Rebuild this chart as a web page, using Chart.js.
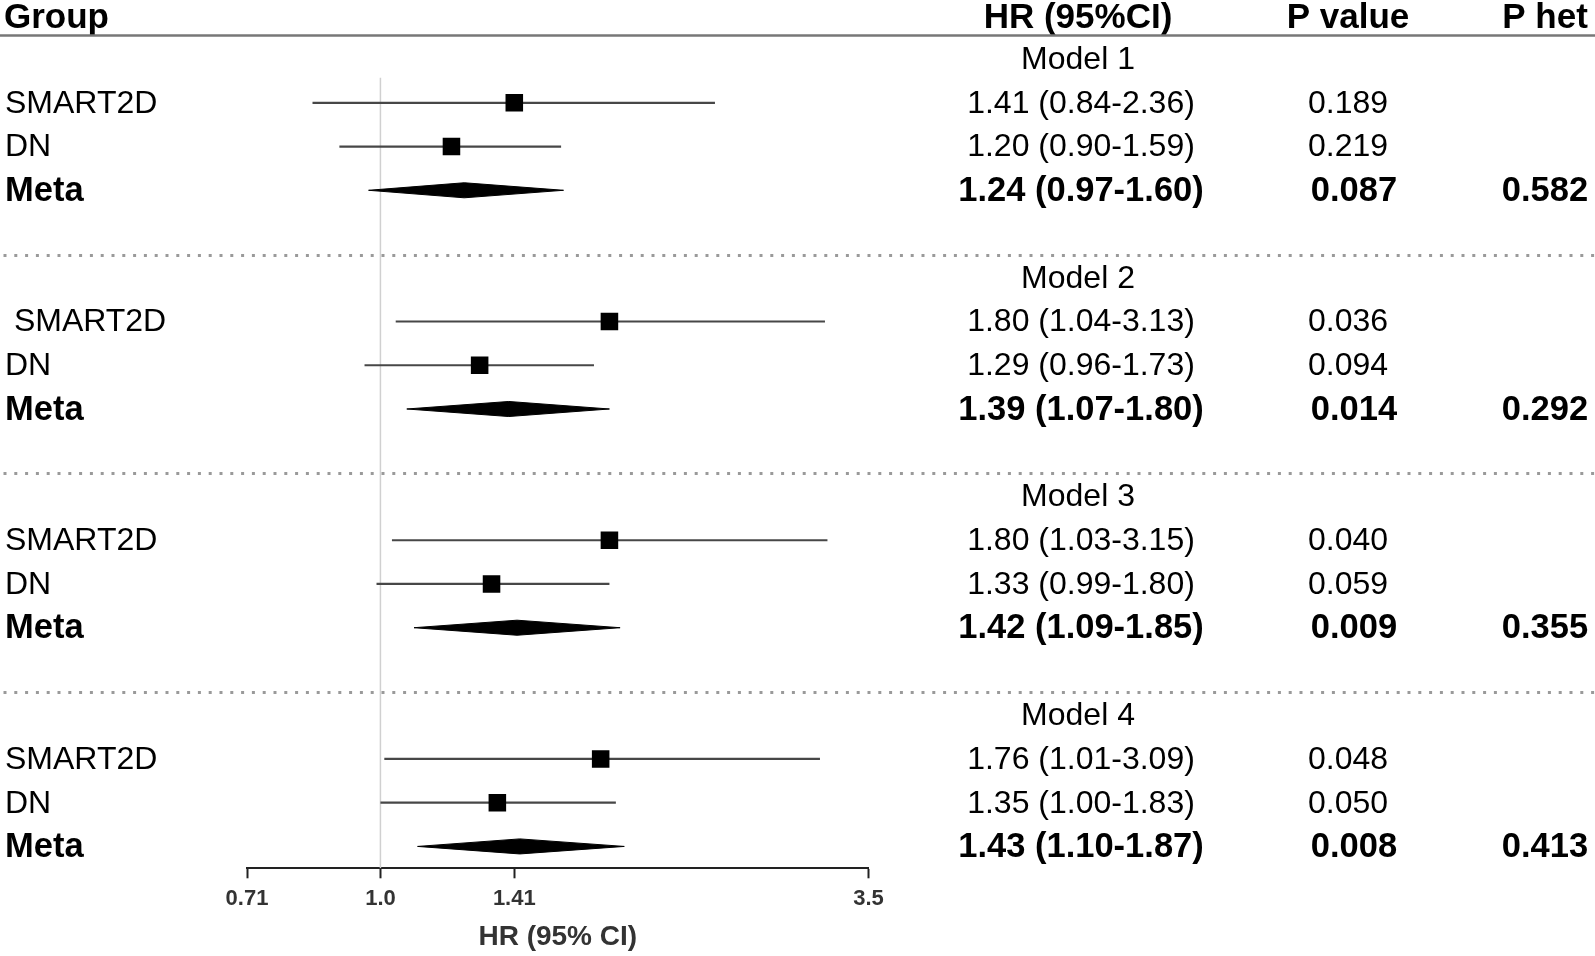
<!DOCTYPE html>
<html><head><meta charset="utf-8">
<script src="https://cdn.jsdelivr.net/npm/chart.js@4.4.1/dist/chart.umd.min.js"></script>
<style>html,body{margin:0;padding:0;background:#fff}#wrap{width:1595px;height:956px;position:relative}</style>
</head><body><div id="wrap"><canvas id="c"></canvas></div>
<script>
// ---- data ----
const modelLabels = ["Model 1", "Model 2", "Model 3", "Model 4"];
const groupLabels = [
  ["SMART2D", "DN", "Meta"],
  [" SMART2D", "DN", "Meta"],
  ["SMART2D", "DN", "Meta"],
  ["SMART2D", "DN", "Meta"]
];
const hrEstimate = [[1.41, 1.20, 1.24], [1.80, 1.29, 1.39], [1.80, 1.33, 1.42], [1.76, 1.35, 1.43]];
const ciLower    = [[0.84, 0.90, 0.97], [1.04, 0.96, 1.07], [1.03, 0.99, 1.09], [1.01, 1.00, 1.10]];
const ciUpper    = [[2.36, 1.59, 1.60], [3.13, 1.73, 1.80], [3.15, 1.80, 1.85], [3.09, 1.83, 1.87]];
const pValues    = [["0.189", "0.219", "0.087"], ["0.036", "0.094", "0.014"], ["0.040", "0.059", "0.009"], ["0.048", "0.050", "0.008"]];
const pHet       = ["0.582", "0.292", "0.355", "0.413"];
const headerLabels = ["Group", "HR (95%CI)", "P value", "P het"];
const xTickValues = [0.71, 1.0, 1.41, 3.5];
const xTickLabels = ["0.71", "1.0", "1.41", "3.5"];
const xAxisTitle = "HR (95% CI)";
const refValue = 1.0;

// ---- layout constants ----
const FONT = '"Liberation Sans", Arial, sans-serif';
const ROWS_PER_MODEL = 5;
const rowOf = (m, g) => m * ROWS_PER_MODEL + 1 + g;
const DIAMOND_HALF = 0.172;

const datasets = [];
const markerData = [];
for (let m = 0; m < modelLabels.length; m++) {
  for (let g = 0; g < 2; g++) markerData.push({x: hrEstimate[m][g], y: rowOf(m, g)});
}
datasets.push({type: 'scatter', data: markerData, showLine: false, pointStyle: 'rect', pointRadius: 11,
  backgroundColor: '#000', borderColor: '#000', borderWidth: 2});
for (let m = 0; m < modelLabels.length; m++) {
  const r = rowOf(m, 2), lo = ciLower[m][2], hi = ciUpper[m][2], est = hrEstimate[m][2];
  datasets.push({type: 'line', data: [{x: lo, y: r}, {x: est, y: r - DIAMOND_HALF}, {x: hi, y: r}, {x: est, y: r + DIAMOND_HALF}, {x: lo, y: r}],
    borderColor: '#000', backgroundColor: '#000', borderWidth: 1, fill: 'shape', pointRadius: 0, tension: 0});
}
for (let m = 0; m < modelLabels.length; m++) {
  for (let g = 0; g < 2; g++) {
    const r = rowOf(m, g);
    datasets.push({type: 'scatter', showLine: true, data: [{x: ciLower[m][g], y: r}, {x: ciUpper[m][g], y: r}],
      borderColor: '#474747', borderWidth: 2.2, pointRadius: 0});
  }
}
datasets.push({type: 'scatter', showLine: true, data: [{x: refValue, y: 0.43}, {x: refValue, y: 18.5}],
  borderColor: '#d0d0d0', borderWidth: 1.5, pointRadius: 0});

const tablePlugin = {
  id: 'table',
  beforeDraw(chart) {
    const ctx = chart.ctx;
    ctx.save(); ctx.fillStyle = '#fff'; ctx.fillRect(0, 0, chart.width, chart.height); ctx.restore();
  },
  afterDraw(chart) {
    const ctx = chart.ctx, ys = chart.scales.y, W = chart.width;
    ctx.save();
    // header
    ctx.fillStyle = '#000';
    ctx.textBaseline = 'alphabetic';
    ctx.font = 'bold 35px ' + FONT;
    const hy = ys.getPixelForValue(-0.71);
    ctx.textAlign = 'left'; ctx.fillText(headerLabels[0], 4, hy);
    ctx.textAlign = 'center';
    ctx.fillText(headerLabels[1], 1078, hy);
    ctx.fillText(headerLabels[2], 1348, hy);
    ctx.fillText(headerLabels[3], 1545, hy);
    // header rule
    ctx.strokeStyle = '#777'; ctx.lineWidth = 2.5;
    const ly = ys.getPixelForValue(-0.54);
    ctx.beginPath(); ctx.moveTo(0, ly); ctx.lineTo(W, ly); ctx.stroke();
    // dotted separators
    ctx.strokeStyle = '#9a9a9a'; ctx.lineWidth = 3; ctx.setLineDash([3, 7.8]);
    for (let m = 0; m < modelLabels.length - 1; m++) {
      const y = Math.round(ys.getPixelForValue(m * ROWS_PER_MODEL + 4.47)) + 0.5;
      ctx.beginPath(); ctx.moveTo(3.5, y); ctx.lineTo(W, y); ctx.stroke();
    }
    ctx.setLineDash([]);
    // rows
    ctx.textBaseline = 'middle';
    for (let m = 0; m < modelLabels.length; m++) {
      ctx.font = '32px ' + FONT; ctx.textAlign = 'center';
      ctx.fillText(modelLabels[m], 1078, ys.getPixelForValue(m * ROWS_PER_MODEL) + 1);
      for (let g = 0; g < 3; g++) {
        const y = ys.getPixelForValue(rowOf(m, g)) + 1;
        const bold = g === 2;
        ctx.font = (bold ? 'bold 34.5px ' : '32px ') + FONT;
        ctx.textAlign = 'left';
        ctx.fillText(groupLabels[m][g], 5, y);
        ctx.textAlign = 'center';
        const txt = hrEstimate[m][g].toFixed(2) + ' (' + ciLower[m][g].toFixed(2) + '-' + ciUpper[m][g].toFixed(2) + ')';
        ctx.fillText(txt, 1081, y);
        ctx.fillText(pValues[m][g], bold ? 1354 : 1348, y);
        if (bold) ctx.fillText(pHet[m], 1545, y);
      }
    }
    ctx.restore();
  }
};

new Chart(document.getElementById('c'), {
  type: 'scatter',
  data: {datasets},
  options: {
    responsive: true, maintainAspectRatio: false, animation: false, events: [],
    layout: {padding: {left: 247, right: 1595 - 868.5, top: 0, bottom: 0}, autoPadding: false},
    plugins: {legend: {display: false}, tooltip: {enabled: false}, title: {display: false}},
    scales: {
      x: {
        type: 'logarithmic', position: 'bottom', bounds: 'data',
        min: xTickValues[0], max: xTickValues[xTickValues.length - 1],
        afterBuildTicks: s => {
          s.ticks = xTickValues.map(v => ({value: v}));
          s.min = xTickValues[0]; s.max = xTickValues[xTickValues.length - 1];
        },
        afterFit: s => { s.height = 87.7; },
        ticks: {autoSkip: false, maxRotation: 0, minRotation: 0, padding: 7, color: '#333',
          font: {family: FONT, size: 22, weight: 'bold'}, callback: (v, i) => xTickLabels[i]},
        grid: {display: true, drawOnChartArea: false, drawTicks: true, tickLength: 10, tickColor: '#222', tickWidth: 2},
        border: {display: true, color: '#222', width: 2},
        title: {display: true, text: xAxisTitle, color: '#333', font: {family: FONT, size: 28, weight: 'bold'},
          padding: {top: 0, bottom: 2}}
      },
      y: {type: 'linear', reverse: true, min: -1.35, max: 18.5, display: false}
    }
  },
  plugins: [tablePlugin]
});
</script>
</body></html>
